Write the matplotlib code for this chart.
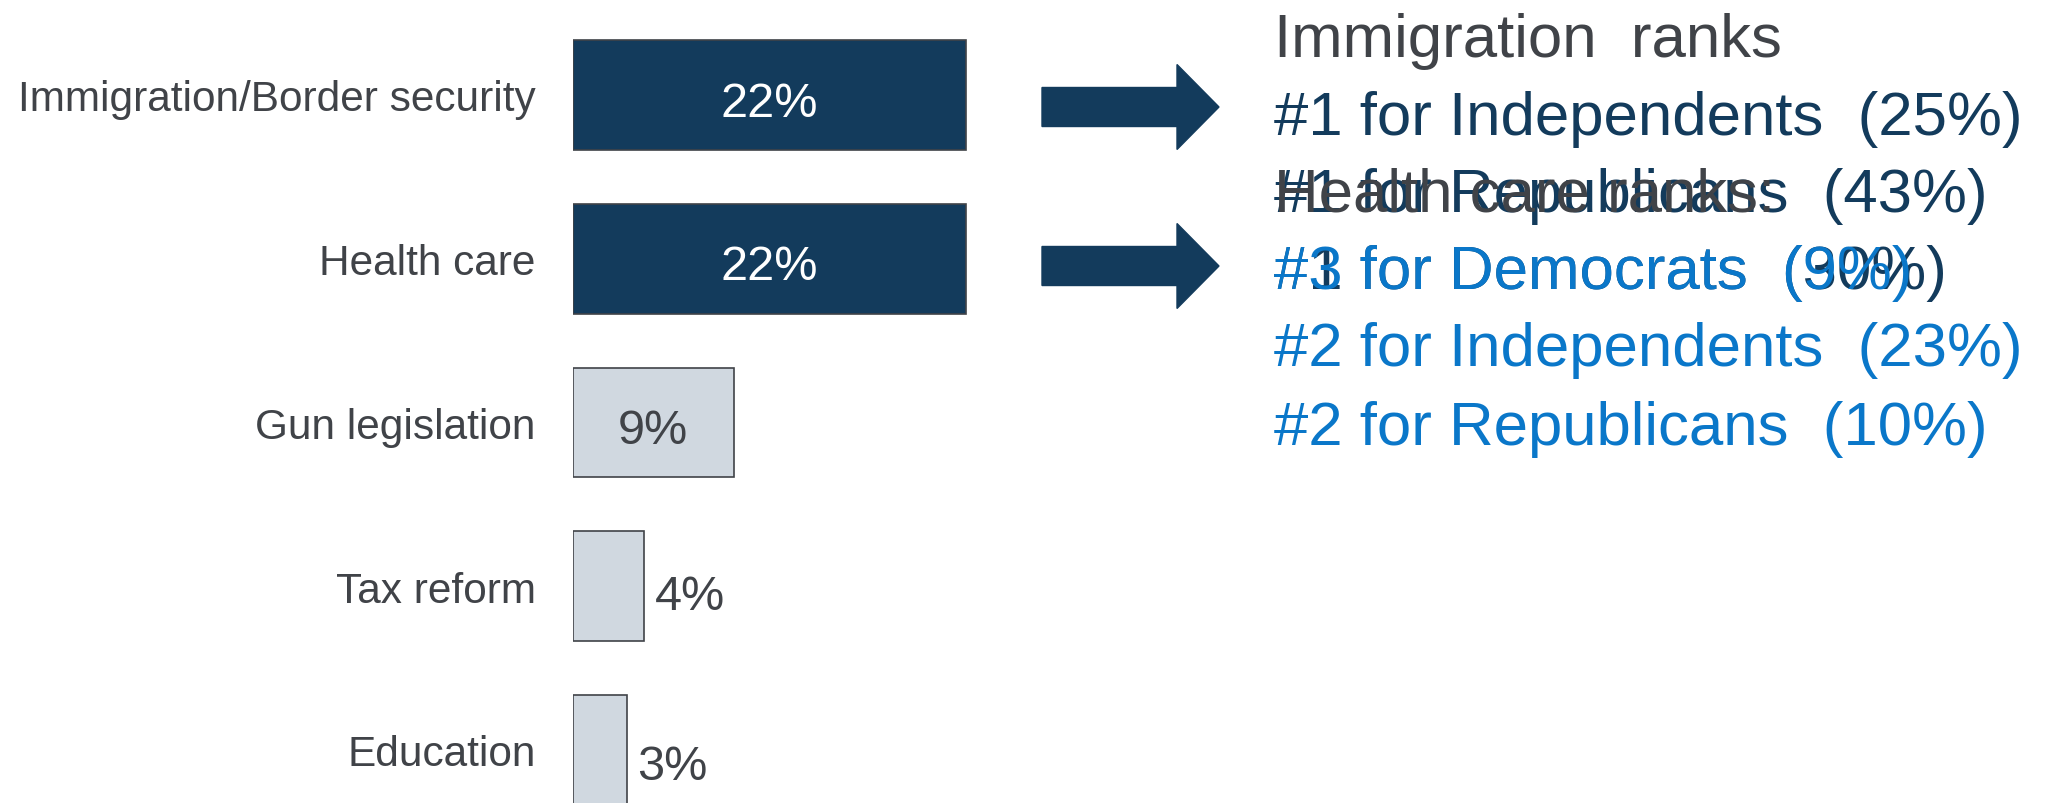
import matplotlib.pyplot as plt
from matplotlib.patches import FancyArrow

plt.rcParams['font.family'] = ['Liberation Sans', 'DejaVu Sans']

# Data
categories = ["Immigration/Border security", "Health care", "Gun legislation",
              "Tax reform", "Education"]
values = [22, 22, 9, 4, 3]
highlight = [True, True, False, False, False]

immigration_lines = ["#1 for Independents  (25%)",
                     "#1 for Republicans  (43%)",
                     "#1 for Democrats  (30%)"]
health_lines = ["#3 for Democrats  (9%)",
                "#2 for Independents  (23%)",
                "#2 for Republicans  (10%)"]

navy = "#133B5C"
light = "#D0D8E0"
gray_text = "#404348"
blue = "#0A77C9"

W, H = 2055, 804
fig = plt.figure(figsize=(W / 100, H / 100), dpi=100)
ax = fig.add_axes([573 / W, 0, (W - 573) / W, 1])

ypos = list(range(len(categories)))
colors = [navy if h else light for h in highlight]
ax.barh(ypos, values, height=0.67, color=colors, edgecolor=gray_text, linewidth=1.2)

ax.set_xlim(0, (W - 573) / 17.86)
ax.set_ylim(4.324, -0.586)
ax.set_yticks(ypos)
ax.set_yticklabels(categories, fontsize=30.5, color=gray_text)
ax.tick_params(axis='y', length=0, pad=27)
ax.set_xticks([])
for s in ax.spines.values():
    s.set_visible(False)

# bar value labels
for i, v in enumerate(values):
    if highlight[i]:
        ax.text(v / 2, i + 0.05, f"{v}%", ha='center', va='center', fontsize=35, color='white')
    elif v >= 6:
        ax.text(v / 2, i + 0.05, f"{v}%", ha='center', va='center', fontsize=35, color=gray_text)
    else:
        ax.text(v + 0.6, i + 0.06 + 0.04 * (i - 3), f"{v}%", ha='left', va='center',
                fontsize=35, color=gray_text)

# arrows (figure pixel coords converted to fractions)
for yc in [108, 267]:
    arr = FancyArrow(1042 / W, 1 - yc / H, (1219 - 1042) / W, 0,
                     width=39 / H, head_width=85 / H, head_length=42 / W,
                     length_includes_head=True, color=navy, transform=fig.transFigure)
    fig.add_artist(arr)

# annotation text
tx = 1274 / W
fs = 44.5
fig.text(tx, 1 - 42 / H, "Immigration  ranks", fontsize=fs, color=gray_text, va='center')
for k, line in enumerate(immigration_lines):
    fig.text(tx, 1 - (119 + 77.5 * k) / H, line, fontsize=fs, color=navy, va='center')
fig.text(tx, 1 - 196 / H, "Health care ranks:", fontsize=fs, color=gray_text, va='center')
for k, line in enumerate(health_lines):
    fig.text(tx, 1 - (273 + 78 * k) / H, line, fontsize=fs, color=blue, va='center')

fig.savefig("out.png", dpi=100)
